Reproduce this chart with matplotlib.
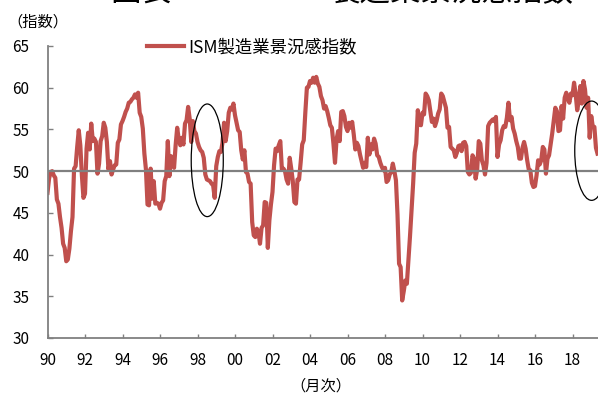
import numpy as np
import matplotlib
matplotlib.use("Agg")
import matplotlib.pyplot as plt
from matplotlib.patches import Ellipse

plt.rcParams['font.family'] = ['Noto Sans CJK JP', 'DejaVu Sans']

# ISM manufacturing index, monthly, Jan 1990 - May 2019
pmi_1990s = [
    47.4, 49.1, 49.9, 50.0, 49.5, 49.2, 46.6, 46.1, 44.5, 43.2, 41.3, 40.8,  # 1990
    39.2, 39.4, 40.7, 42.8, 44.5, 50.3, 50.6, 52.9, 54.9, 53.1, 49.5, 46.8,  # 1991
    47.3, 52.7, 54.6, 52.6, 55.7, 53.6, 53.9, 53.5, 49.7, 50.9, 53.6, 54.2,  # 1992
    55.8, 55.2, 53.5, 50.2, 51.2, 49.6, 50.2, 50.7, 50.8, 53.4, 53.8, 55.6,  # 1993
    56.0, 56.5, 57.1, 57.5, 58.2, 58.3, 58.6, 58.8, 59.2, 58.8, 59.4, 57.0,  # 1994
    56.5, 55.1, 52.1, 50.2, 46.0, 45.9, 50.3, 46.7, 48.8, 46.1, 46.2, 46.1,  # 1995
    45.5, 46.2, 46.5, 48.8, 49.4, 53.6, 49.4, 51.8, 51.2, 50.4, 53.1, 55.2,  # 1996
    53.8, 53.1, 54.0, 53.2, 55.7, 56.1, 57.7, 56.3, 53.5, 56.0, 54.8, 54.5,  # 1997
    53.5, 52.9, 52.5, 52.3, 51.6, 49.6, 49.0, 48.9, 48.8, 48.5, 48.3, 46.8,  # 1998
    50.6, 51.7, 52.4, 52.3, 53.4, 55.8, 53.6, 54.8, 57.0, 57.6, 57.4, 58.1,  # 1999
]
pmi_2000s = [
    56.7, 55.8, 54.9, 54.7, 52.5, 51.4, 52.5, 49.9, 49.7, 48.7, 48.5, 43.9,  # 2000
    42.3, 42.1, 43.1, 42.7, 41.3, 43.2, 43.5, 46.3, 46.2, 40.8, 44.1, 46.0,  # 2001
    47.5, 50.7, 52.7, 52.4, 53.1, 53.6, 50.2, 50.3, 50.0, 49.0, 48.5, 51.6,  # 2002
    50.3, 48.8, 46.3, 46.1, 49.0, 49.0, 51.0, 53.2, 53.7, 57.0, 60.0, 60.1,  # 2003
    60.8, 60.6, 61.2, 60.6, 61.3, 60.5, 60.1, 59.0, 58.5, 57.5, 57.8, 57.2,  # 2004
    56.4, 55.5, 55.2, 53.3, 51.0, 53.8, 54.8, 53.6, 57.1, 57.2, 56.6, 55.3,  # 2005
    54.8, 55.8, 55.2, 55.9, 54.4, 52.6, 53.4, 53.0, 52.0, 51.2, 50.4, 51.0,  # 2006
    50.5, 54.0, 52.0, 53.2, 52.6, 53.9, 53.3, 51.9, 51.7, 51.0, 50.5, 50.1,  # 2007
    50.4, 48.7, 48.9, 49.6, 49.9, 50.9, 50.0, 48.9, 44.8, 38.9, 38.5, 34.5,  # 2008
    35.6, 36.9, 36.5, 39.3, 42.2, 45.3, 48.5, 52.2, 53.3, 57.3, 55.6, 55.5,  # 2009
]
pmi_2010s = [
    57.0, 56.8, 59.3, 59.0, 58.5, 57.2, 55.9, 56.3, 55.4, 56.0, 56.9, 57.4,  # 2010
    59.3, 59.0, 58.3, 57.6, 55.2, 55.3, 52.9, 52.7, 52.5, 51.7, 52.2, 53.0,  # 2011
    53.1, 52.4, 53.4, 53.5, 53.0, 49.9, 49.6, 49.8, 51.9, 51.5, 49.1, 50.2,  # 2012
    53.6, 53.3, 51.3, 50.7, 49.6, 51.0, 55.4, 55.8, 56.0, 56.2, 56.0, 56.5,  # 2013
    51.7, 53.2, 53.7, 54.9, 55.4, 55.3, 56.4, 58.2, 56.1, 56.5, 55.1, 54.5,  # 2014
    53.6, 52.9, 51.5, 51.5, 52.8, 53.5, 52.7, 51.3, 50.2, 50.1, 48.6, 48.1,  # 2015
    48.2, 49.5, 51.3, 50.8, 51.3, 52.9, 52.6, 49.7, 51.5, 51.9, 53.2, 54.5,  # 2016
    56.0, 57.6, 57.2, 54.8, 54.9, 57.8, 56.3, 58.8, 59.4, 58.7, 58.2, 59.3,  # 2017
    59.1, 60.6, 59.3, 57.3, 58.4, 60.2, 58.1, 60.8, 59.8, 57.6, 58.8, 54.0,  # 2018
    56.6, 55.3, 55.3, 52.8, 52.1,                                            # 2019
]
pmi = np.array(pmi_1990s + pmi_2000s + pmi_2010s)
start_year = 1990
months = start_year + np.arange(len(pmi)) / 12.0

tick_years = list(range(1990, 2019, 2))
tick_labels = ['90', '92', '94', '96', '98', '00', '02', '04', '06', '08',
               '10', '12', '14', '16', '18']
y_ticks = [30, 35, 40, 45, 50, 55, 60, 65]
series_name = 'ISM製造業景況感指数'

# circled periods (centre year, centre value, width in years, height in points)
circles = [(1998.52, 51.3, 1.71, 13.5), (2019.02, 52.45, 1.8, 11.9)]

red = '#C0504D'
gray = '#808080'

fig = plt.figure(figsize=(5.98, 3.97), dpi=100)
ax = fig.add_axes([47.5 / 598, 59 / 397, 1 - 47.5 / 598, 292 / 397])

ax.plot(months, pmi, color=red, lw=3.0, solid_joinstyle='round',
        label=series_name, zorder=2)
ax.axhline(50, color=gray, lw=1.6, zorder=3)

for cx, cy, w, h in circles:
    ax.add_patch(Ellipse((cx, cy), w, h, fill=False, ec='black', lw=0.9,
                         zorder=4, clip_on=False))

ax.set_xlim(1990, 1990 + (598 - 47.5) / 18.75)
ax.set_ylim(30, 65)
ax.set_xticks(tick_years)
ax.set_xticklabels(tick_labels)
ax.set_yticks(y_ticks)

for s in ['top', 'right']:
    ax.spines[s].set_visible(False)
for s in ['left', 'bottom']:
    ax.spines[s].set_color(gray)
    ax.spines[s].set_linewidth(1.3)

ax.tick_params(axis='y', direction='in', length=3.6, width=1, color=gray,
               pad=13, labelsize=11, labelcolor='black')
ax.tick_params(axis='x', direction='in', length=3, width=1, color=gray,
               pad=10, labelsize=11, labelcolor='black')

ax.legend(loc='center left', bbox_to_anchor=(147 / 598, 1 - 47.5 / 397),
          bbox_transform=fig.transFigure, frameon=False, fontsize=12.5,
          handlelength=2.15, handletextpad=0.25, borderpad=0, borderaxespad=0)

fig.text(7 / 598, 1 - 22 / 397, '（指数）', fontsize=11, ha='left', va='center')
fig.text(321 / 598, 1 - 386 / 397, '（月次）', fontsize=11, ha='center', va='center')

# chart title, mostly cut off at the top edge
fig.text(110 / 598, 1 - 1 / 397, '図表', fontsize=22, ha='left', va='baseline')
fig.text(330 / 598, 1 - 1 / 397, '製造業景況感指数', fontsize=22, ha='left',
         va='baseline')

fig.savefig('out.png', dpi=100)
